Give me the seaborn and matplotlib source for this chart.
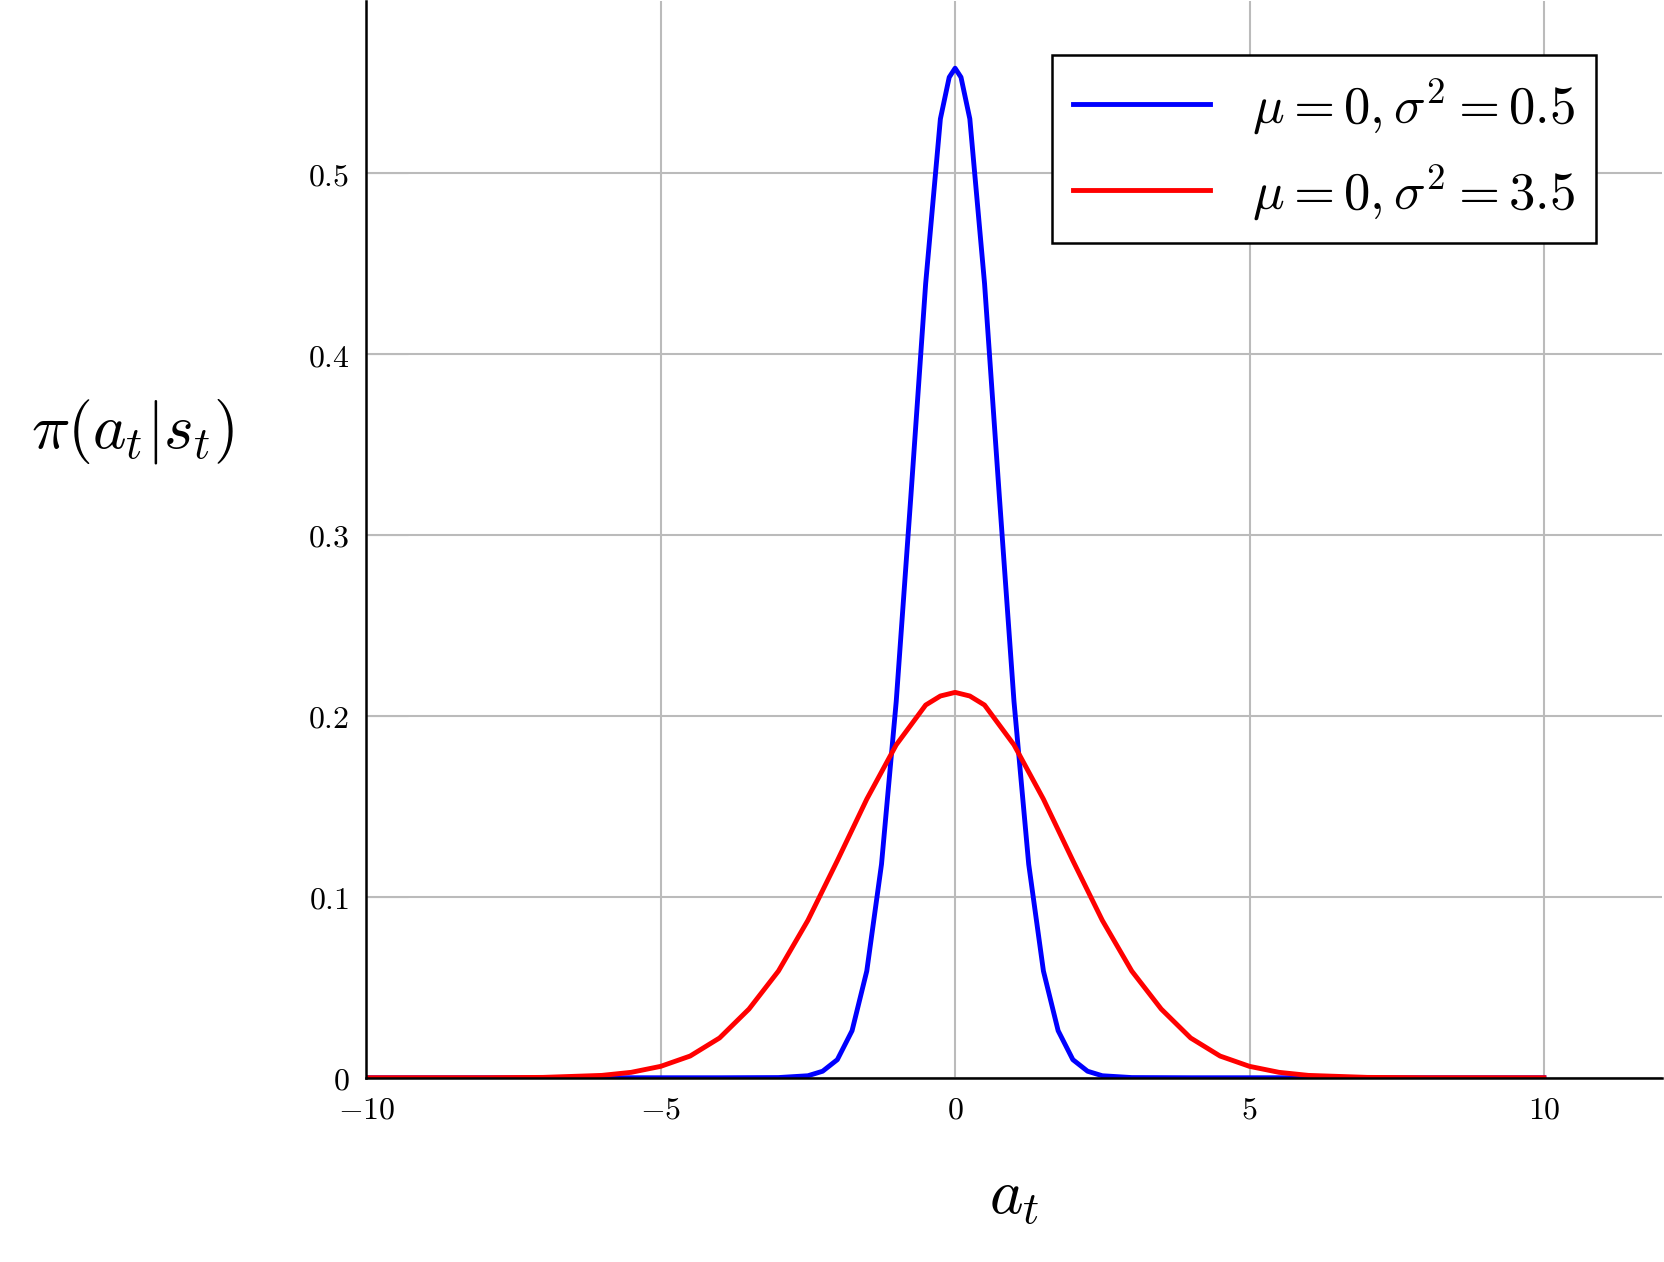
import numpy as np
import pandas as pd
import matplotlib
matplotlib.use("Agg")
import matplotlib.pyplot as plt
import seaborn as sns

plt.rcParams["mathtext.fontset"] = "cm"
plt.rcParams["font.family"] = "serif"

# values
x_blue = [-10, -4, -3, -2.5, -2.25, -2, -1.75, -1.5, -1.25, -1, -0.75, -0.5, -0.25, -0.1, 0,
          0.1, 0.25, 0.5, 0.75, 1, 1.25, 1.5, 1.75, 2, 2.25, 2.5, 3, 4, 10]
y_blue = [0, 0, 0.0001, 0.0011, 0.0036, 0.010, 0.026, 0.059, 0.118, 0.208, 0.322, 0.439, 0.530, 0.553, 0.558,
          0.553, 0.530, 0.439, 0.322, 0.208, 0.118, 0.059, 0.026, 0.010, 0.0036, 0.0011, 0.0001, 0, 0]
x_red = [-10, -8, -7, -6, -5.5, -5, -4.5, -4, -3.5, -3, -2.5, -2, -1.5, -1, -0.5, -0.25, 0,
         0.25, 0.5, 1, 1.5, 2, 2.5, 3, 3.5, 4, 4.5, 5, 5.5, 6, 7, 8, 10]
y_red = [0, 0.00002, 0.0002, 0.0013, 0.0030, 0.0063, 0.012, 0.022, 0.038, 0.059, 0.087, 0.120, 0.154, 0.184, 0.206, 0.211, 0.213,
         0.211, 0.206, 0.184, 0.154, 0.120, 0.087, 0.059, 0.038, 0.022, 0.012, 0.0063, 0.0030, 0.0013, 0.0002, 0.00002, 0]
labels = [r"$\mu = 0, \sigma^2 = 0.5$", r"$\mu = 0, \sigma^2 = 3.5$"]

df = pd.concat([
    pd.DataFrame({"x": x_blue, "y": y_blue, "s": labels[0]}),
    pd.DataFrame({"x": x_red, "y": y_red, "s": labels[1]}),
])

fig = plt.figure(figsize=(16.65, 12.62), dpi=100)
ax = fig.add_axes([0.22, 0.146, 0.778, 0.853])
sns.lineplot(data=df, x="x", y="y", hue="s", palette=["#0000ff", "#ff0000"],
             linewidth=3.5, ax=ax, sort=False)

ax.set_xlim(-10, 12)
ax.set_ylim(0, 0.595)
ax.set_xticks([-10, -5, 0, 5, 10])
ax.set_xticklabels([r"$-10$", r"$-5$", r"$0$", r"$5$", r"$10$"], fontsize=23)
ax.set_yticks([0, 0.1, 0.2, 0.3, 0.4, 0.5])
ax.set_yticklabels([r"$0$", r"$0.1$", r"$0.2$", r"$0.3$", r"$0.4$", r"$0.5$"], fontsize=23)
ax.grid(True, color="#bbbbbb", linewidth=1.5)
ax.tick_params(axis="y", length=30, color="#bbbbbb", direction="in", pad=12)
ax.tick_params(axis="x", length=0, pad=12)
for s in ["top", "right"]:
    ax.spines[s].set_visible(False)
for s in ["left", "bottom"]:
    ax.spines[s].set_color("black")
    ax.spines[s].set_linewidth(1.8)

ax.set_xlabel(r"$a_t$", fontsize=46, labelpad=30)
ax.set_ylabel(r"$\pi(a_t|s_t)$", fontsize=46, rotation=0, va="center")
ax.yaxis.set_label_coords(-0.18, 0.6)

leg = ax.legend(loc="upper right", fontsize=38, frameon=True, fancybox=False,
                edgecolor="black", framealpha=1, handlelength=2.6, borderpad=0.4,
                bbox_to_anchor=(0.97, 0.975))
leg.get_frame().set_linewidth(1.8)

fig.savefig("out.png", dpi=100)
